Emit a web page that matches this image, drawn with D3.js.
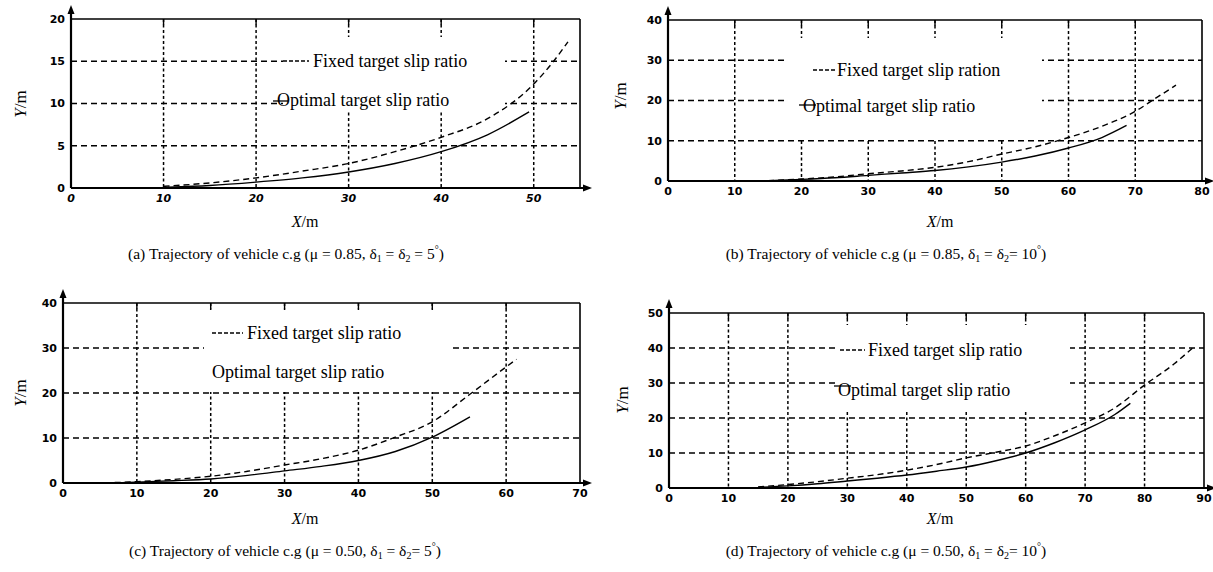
<!DOCTYPE html>
<html>
<head>
<meta charset="utf-8">
<script src="https://cdn.jsdelivr.net/npm/d3@7"></script>
<style>
    body { margin: 0; background: #fff; }
    svg { display: block; }
    .tick-label { font-family: "DejaVu Sans", Arial, sans-serif; font-weight: bold; font-size: 11px; fill: #000; }
    .serif { font-family: "Liberation Serif", "Times New Roman", serif; fill: #000; }
</style>
</head>
<body>
<svg id="fig" width="1213" height="572"></svg>
<script>
// trajectory points [X (m), Y (m)]
var fixedA   = [[10,0.2],[15,0.6],[20,1.2],[25,2.0],[30,2.9],[35,4.3],[40,6.0],[45,8.2],[50,12.3],[52,14.8],[53.7,17.3]];
var optimalA = [[10.5,0.1],[15,0.3],[20,0.7],[25,1.2],[30,1.9],[35,2.9],[40,4.3],[45,6.3],[49.5,9.0]];

var fixedB   = [[15,0.1],[20,0.5],[25,1.0],[30,1.8],[35,2.5],[40,3.4],[45,4.8],[50,6.7],[55,8.5],[60,10.8],[65,13.6],[70,17.3],[73,20.5],[76.1,23.8]];
var optimalB = [[15,0.1],[20,0.4],[25,0.8],[30,1.4],[35,2.0],[40,2.6],[45,3.5],[50,4.7],[55,6.2],[60,8.2],[65,10.8],[68.7,13.8]];

var fixedC   = [[7,0.1],[10,0.3],[15,0.8],[20,1.5],[25,2.6],[30,4.0],[35,5.4],[40,7.3],[45,10.2],[50,13.6],[55,19.6],[60,25.8],[61.4,27.5]];
var optimalC = [[8,0.05],[10,0.2],[15,0.5],[20,0.9],[25,1.7],[30,2.7],[35,3.7],[40,5.0],[45,7.0],[50,10.2],[55.1,14.7]];

var fixedD   = [[15,0.3],[20,1.0],[25,1.8],[30,2.8],[35,3.8],[40,5.1],[45,6.7],[50,8.6],[55,10.2],[60,12.0],[65,15.0],[70,18.6],[75,22.9],[80,29.4],[85,35.5],[88.2,40.2]];
var optimalD = [[15,0.2],[20,0.6],[25,1.2],[30,2.0],[35,2.8],[40,3.7],[45,4.8],[50,6.0],[55,7.8],[60,10.0],[65,13.0],[70,16.6],[75,21.0],[77.6,24.2]];

// tick values
var xTicksA = [0,10,20,30,40,50],          yTicksA = [0,5,10,15,20];
var xTicksB = [0,10,20,30,40,50,60,70,80], yTicksB = [0,10,20,30,40];
var xTicksC = [0,10,20,30,40,50,60,70],    yTicksC = [0,10,20,30,40];
var xTicksD = [0,10,20,30,40,50,60,70,80,90], yTicksD = [0,10,20,30,40,50];

// legend and caption texts
var fixedLabels   = ["Fixed target slip ratio", "Fixed target slip ration", "Fixed target slip ratio", "Fixed target slip ratio"];
var optimalLabel  = "Optimal target slip ratio";
var captionLetters = ["(a)", "(b)", "(c)", "(d)"];
var captionMu      = ["0.85", "0.85", "0.50", "0.50"];
var captionDelta   = ["5", "10", "5", "10"];


trajectoryChart = function(_svg, _panel) {
    this.svg = _svg;
    this.panel = _panel;
    this.initVis();
}

trajectoryChart.prototype.initVis = function() {
    var vis = this;
    var p = vis.panel;

    vis.width = p.right - p.left;
    vis.height = p.bottom - p.top;

    vis.g = vis.svg.append("g")
        .attr("transform", "translate(" + p.left + "," + p.top + ")");

    vis.x = d3.scaleLinear().domain(p.xDomain).range([0, vis.width]);
    vis.y = d3.scaleLinear().domain(p.yDomain).range([vis.height, 0]);

    vis.updateVis();
}

trajectoryChart.prototype.updateVis = function() {
    var vis = this;
    var p = vis.panel;

    var innerX = p.xTicks.filter(function(d) { return d > p.xDomain[0] && d < p.xDomain[1]; });
    var innerY = p.yTicks.filter(function(d) { return d > p.yDomain[0] && d < p.yDomain[1]; });

    // grid
    vis.g.selectAll(".vgrid").data(innerX).enter()
        .append("line")
        .attr("class", "vgrid")
        .attr("x1", function(d) { return vis.x(d); })
        .attr("x2", function(d) { return vis.x(d); })
        .attr("y1", 0).attr("y2", vis.height)
        .attr("stroke", "#000").attr("stroke-width", 1.5)
        .attr("stroke-dasharray", "3,2.5");

    vis.g.selectAll(".hgrid").data(innerY).enter()
        .append("line")
        .attr("class", "hgrid")
        .attr("y1", function(d) { return vis.y(d); })
        .attr("y2", function(d) { return vis.y(d); })
        .attr("x1", 0).attr("x2", vis.width)
        .attr("stroke", "#000").attr("stroke-width", 1.5)
        .attr("stroke-dasharray", "6,4");

    // legend background hides the grid behind it
    var lg = p.legend;
    vis.g.append("rect")
        .attr("x", lg.box[0]).attr("y", lg.box[1])
        .attr("width", lg.box[2] - lg.box[0]).attr("height", lg.box[3] - lg.box[1])
        .attr("fill", "#fff");

    // tick marks on the top edge
    vis.g.selectAll(".ttick").data(innerX).enter()
        .append("line")
        .attr("x1", function(d) { return vis.x(d); })
        .attr("x2", function(d) { return vis.x(d); })
        .attr("y1", 0).attr("y2", 6)
        .attr("stroke", "#000").attr("stroke-width", 1.4);

    // legend entries
    vis.g.append("line")
        .attr("x1", lg.fixedLine[0]).attr("x2", lg.fixedLine[1])
        .attr("y1", lg.fixedPos[1]).attr("y2", lg.fixedPos[1])
        .attr("stroke", "#000").attr("stroke-width", 1.3)
        .attr("stroke-dasharray", "4,2");
    vis.g.append("text")
        .attr("class", "serif")
        .attr("x", lg.fixedPos[0]).attr("y", lg.fixedPos[1])
        .attr("dy", "0.32em")
        .style("font-size", "18px")
        .text(p.fixedLabel);
    if (lg.thetaLine) {
        vis.g.append("line")
            .attr("x1", lg.thetaLine[0]).attr("x2", lg.thetaLine[1])
            .attr("y1", lg.thetaLine[2]).attr("y2", lg.thetaLine[2])
            .attr("stroke", "#000").attr("stroke-width", 1.3);
    }
    vis.g.append("text")
        .attr("class", "serif")
        .attr("x", lg.optimalPos[0]).attr("y", lg.optimalPos[1])
        .attr("dy", "0.32em")
        .style("font-size", "18px")
        .text(optimalLabel);

    // curves
    var line = d3.line()
        .x(function(d) { return vis.x(d[0]); })
        .y(function(d) { return vis.y(d[1]); })
        .curve(d3.curveMonotoneX);

    vis.g.append("path")
        .datum(p.fixed)
        .attr("d", line)
        .attr("fill", "none").attr("stroke", "#000")
        .attr("stroke-width", 1.4)
        .attr("stroke-dasharray", "6,4");

    vis.g.append("path")
        .datum(p.optimal)
        .attr("d", line)
        .attr("fill", "none").attr("stroke", "#000")
        .attr("stroke-width", 1.4);

    // frame: thin top / right, heavy left / bottom with arrow heads
    vis.g.append("line")
        .attr("x1", 0).attr("x2", vis.width).attr("y1", 0).attr("y2", 0)
        .attr("stroke", "#000").attr("stroke-width", 1.6);
    vis.g.append("line")
        .attr("x1", vis.width).attr("x2", vis.width).attr("y1", 0).attr("y2", vis.height)
        .attr("stroke", "#000").attr("stroke-width", 1.6);
    vis.g.append("line")
        .attr("x1", 0).attr("x2", 0).attr("y1", vis.height).attr("y2", -8)
        .attr("stroke", "#000").attr("stroke-width", 2.2);
    vis.g.append("line")
        .attr("x1", 0).attr("x2", vis.width + 6).attr("y1", vis.height).attr("y2", vis.height)
        .attr("stroke", "#000").attr("stroke-width", 2.2);
    vis.g.append("path")
        .attr("d", "M0,-14 L-3.5,-5 L3.5,-5 Z")
        .attr("fill", "#000");
    vis.g.append("path")
        .attr("d", "M" + (vis.width + 12) + "," + vis.height +
              " L" + (vis.width + 3) + "," + (vis.height - 3.5) +
              " L" + (vis.width + 3) + "," + (vis.height + 3.5) + " Z")
        .attr("fill", "#000");

    // tick labels
    vis.g.selectAll(".xlab").data(p.xTicks).enter()
        .append("text")
        .attr("class", "tick-label")
        .attr("x", function(d) { return vis.x(d); })
        .attr("y", vis.height + 14)
        .attr("text-anchor", "middle")
        .style("font-style", p.italicTicks ? "italic" : "normal")
        .text(function(d) { return d; });

    vis.g.selectAll(".ylab").data(p.yTicks).enter()
        .append("text")
        .attr("class", "tick-label")
        .attr("x", -6)
        .attr("y", function(d) { return vis.y(d); })
        .attr("dy", "0.36em")
        .attr("text-anchor", "end")
        .text(function(d) { return d; });

    // axis titles
    var xt = vis.svg.append("text")
        .attr("class", "serif")
        .attr("x", p.xTitle[0]).attr("y", p.xTitle[1])
        .attr("text-anchor", "middle")
        .style("font-size", "16px");
    xt.append("tspan").style("font-style", "italic").text("X");
    xt.append("tspan").text("/m");

    var yt = vis.svg.append("text")
        .attr("class", "serif")
        .attr("transform", "translate(" + p.yTitle[0] + "," + p.yTitle[1] + ") rotate(-90)")
        .attr("text-anchor", "middle")
        .attr("dy", "0.35em")
        .style("font-size", "17px");
    yt.append("tspan").style("font-style", "italic").text("Y");
    yt.append("tspan").text("/m");

    // caption
    var cap = vis.svg.append("text")
        .attr("class", "serif")
        .attr("x", p.caption[0]).attr("y", p.caption[1])
        .attr("text-anchor", "middle")
        .style("font-size", "15.5px");
    cap.append("tspan").text(p.letter + " Trajectory of vehicle c.g (\u03bc = " + p.mu + ", \u03b4");
    cap.append("tspan").attr("dy", 3).style("font-size", "10px").text("1");
    cap.append("tspan").attr("dy", -3).text(" = \u03b4");
    cap.append("tspan").attr("dy", 3).style("font-size", "10px").text("2");
    cap.append("tspan").attr("dy", -3).text(p.letter == "(a)" ? " = " + p.delta : "= " + p.delta);
    cap.append("tspan").attr("dy", -6).style("font-size", "10px").text("\u00b0");
    cap.append("tspan").attr("dy", 6).text(")");
}


var svg = d3.select("#fig");

new trajectoryChart(svg, {
    left: 71, right: 580, top: 19, bottom: 188,
    xDomain: [0, 55], yDomain: [0, 20], xTicks: xTicksA, yTicks: yTicksA,
    fixed: fixedA, optimal: optimalA, italicTicks: true,
    fixedLabel: fixedLabels[0],
    legend: { box: [212, 18, 434, 91], fixedLine: [212, 238], fixedPos: [242, 42],
              optimalPos: [206, 81], thetaLine: [202, 217, 82] },
    xTitle: [305, 227], yTitle: [20, 104], caption: [286, 259],
    letter: captionLetters[0], mu: captionMu[0], delta: captionDelta[0]
});

new trajectoryChart(svg, {
    left: 668, right: 1202, top: 20, bottom: 181,
    xDomain: [0, 80], yDomain: [0, 40], xTicks: xTicksB, yTicks: yTicksB,
    fixed: fixedB, optimal: optimalB, italicTicks: false,
    fixedLabel: fixedLabels[1],
    legend: { box: [120, 18, 374, 120], fixedLine: [145, 167], fixedPos: [169, 50],
              optimalPos: [135, 86], thetaLine: [131, 148, 85] },
    xTitle: [940, 227], yTitle: [620, 96], caption: [886, 259],
    letter: captionLetters[1], mu: captionMu[1], delta: captionDelta[1]
});

new trajectoryChart(svg, {
    left: 63, right: 580, top: 303, bottom: 483,
    xDomain: [0, 70], yDomain: [0, 40], xTicks: xTicksC, yTicks: yTicksC,
    fixed: fixedC, optimal: optimalC, italicTicks: false,
    fixedLabel: fixedLabels[2],
    legend: { box: [141, 7, 387, 89], fixedLine: [149, 180], fixedPos: [184, 30],
              optimalPos: [149, 69], thetaLine: null },
    xTitle: [305, 524], yTitle: [20, 393], caption: [285, 556],
    letter: captionLetters[2], mu: captionMu[2], delta: captionDelta[2]
});

new trajectoryChart(svg, {
    left: 669, right: 1204, top: 313, bottom: 488,
    xDomain: [0, 90], yDomain: [0, 50], xTicks: xTicksD, yTicks: yTicksD,
    fixed: fixedD, optimal: optimalD, italicTicks: false,
    fixedLabel: fixedLabels[3],
    legend: { box: [169, 12, 401, 97], fixedLine: [171, 196], fixedPos: [199, 37],
              optimalPos: [169, 77], thetaLine: [165, 182, 73] },
    xTitle: [940, 524], yTitle: [622, 400], caption: [886, 556],
    letter: captionLetters[3], mu: captionMu[3], delta: captionDelta[3]
});
</script>
</body>
</html>
